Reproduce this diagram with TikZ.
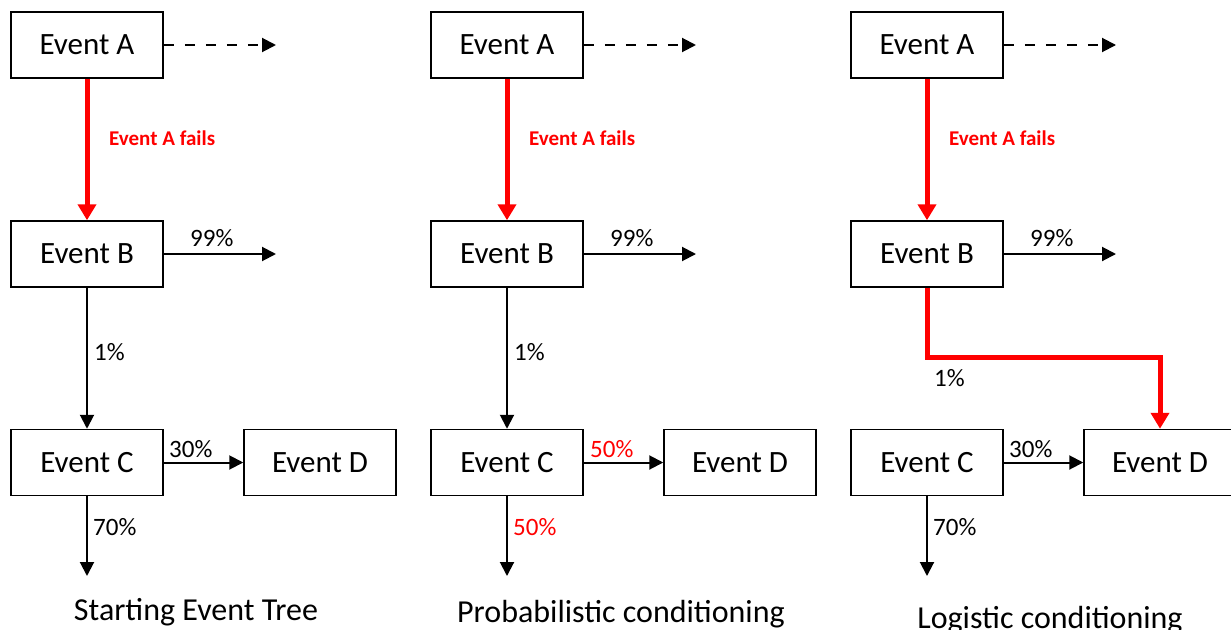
\documentclass[tikz,border=0pt]{standalone}
\usepackage{fontspec}
\setmainfont{Carlito}
\usetikzlibrary{arrows.meta}
\definecolor{redline}{RGB}{255,0,0}
\tikzset{
  x=1pt,y=-1pt,
  evbox/.style={draw,line width=1.5pt,minimum width=152pt,minimum height=66pt,inner sep=0pt,font=\fontsize{31}{36}\selectfont},
  blk/.style={line width=2pt,-{Triangle[length=14pt,width=14pt]}},
  dsh/.style={line width=2pt,dash pattern=on 10pt off 11pt,-{Triangle[length=14pt,width=14pt]}},
  redarr/.style={line width=5pt,draw=redline,-{Triangle[length=16pt,width=18pt]}},
  redpath/.style={line width=5pt,draw=redline,line join=miter},
  pct/.style={font=\fontsize{25}{28}\selectfont,anchor=west,inner sep=0pt},
  redpct/.style={pct,text=redline},
  failtxt/.style={font=\fontsize{21}{24}\selectfont\bfseries,text=redline,anchor=west,inner sep=0pt},
  caption/.style={font=\fontsize{32}{36}\selectfont,anchor=base,inner sep=0pt}
}
\begin{document}
\begin{tikzpicture}
\useasboundingbox (0,0) rectangle (1231,629);
% ---------- Panel 1 ----------
\node[evbox] (a1) at (87,45) {Event A};
\node[evbox] (b1) at (87,254) {Event B};
\node[evbox] (c1) at (87,462.5) {Event C};
\node[evbox] (d1) at (320,462.5) {Event D};
\coordinate (a1e) at (276,45);
\coordinate (b1e) at (276,254);
\coordinate (c1e) at (87,576);
\draw[dsh] (a1.east) -- (a1e);
\draw[redarr] (a1.south) -- (b1.north);
\node[failtxt] (f1) at (109,138) {Event A fails};
\draw[blk] (b1.east) -- (b1e);
\node[pct] (p99a) at (190,238) {99\%};
\draw[blk] (b1.south) -- (c1.north);
\node[pct] (p1a) at (94,352) {1\%};
\draw[blk] (c1.east) -- (d1.west);
\node[pct] (p30a) at (169,449) {30\%};
\draw[blk] (c1.south) -- (c1e);
\node[pct] (p70a) at (93,527) {70\%};
\node[caption] (cap1) at (196,620) {Starting Event Tree};
% ---------- Panel 2 ----------
\node[evbox] (a2) at (507,45) {Event A};
\node[evbox] (b2) at (507,254) {Event B};
\node[evbox] (c2) at (507,462.5) {Event C};
\node[evbox] (d2) at (740,462.5) {Event D};
\coordinate (a2e) at (696,45);
\coordinate (b2e) at (696,254);
\coordinate (c2e) at (507,576);
\draw[dsh] (a2.east) -- (a2e);
\draw[redarr] (a2.south) -- (b2.north);
\node[failtxt] (f2) at (529,138) {Event A fails};
\draw[blk] (b2.east) -- (b2e);
\node[pct] (p99b) at (610,238) {99\%};
\draw[blk] (b2.south) -- (c2.north);
\node[pct] (p1b) at (514,352) {1\%};
\draw[blk] (c2.east) -- (d2.west);
\node[redpct] (p50a) at (590,449) {50\%};
\draw[blk] (c2.south) -- (c2e);
\node[redpct] (p50b) at (513,527) {50\%};
\node[caption] (cap2) at (621,622) {Probabilistic conditioning};
% ---------- Panel 3 ----------
\node[evbox] (a3) at (927,45) {Event A};
\node[evbox] (b3) at (927,254) {Event B};
\node[evbox] (c3) at (927,462.5) {Event C};
\node[evbox] (d3) at (1160,462.5) {Event D};
\coordinate (a3e) at (1116,45);
\coordinate (b3e) at (1116,254);
\coordinate (c3e) at (927,576);
\draw[dsh] (a3.east) -- (a3e);
\draw[redarr] (a3.south) -- (b3.north);
\node[failtxt] (f3) at (949,138) {Event A fails};
\draw[blk] (b3.east) -- (b3e);
\node[pct] (p99c) at (1030,238) {99\%};
\coordinate (k1) at (927,357);
\coordinate (k2) at (1160,357);
\draw[redpath] (b3.south) -- (k1) -- (k2) -- ++(0,20);
\draw[redarr] (k2) -- (d3.north);
\node[pct] (p1c) at (934,378) {1\%};
\draw[blk] (c3.east) -- (d3.west);
\node[pct] (p30c) at (1009,449) {30\%};
\draw[blk] (c3.south) -- (c3e);
\node[pct] (p70c) at (933,527) {70\%};
\node[caption] (cap3) at (1050,628) {Logistic conditioning};
\end{tikzpicture}
\end{document}
